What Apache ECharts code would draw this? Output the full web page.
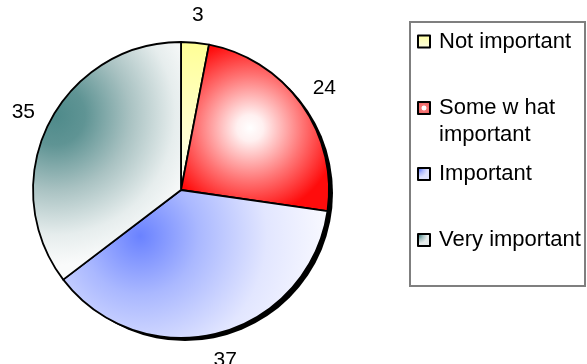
<!DOCTYPE html>
<html>
<head>
<meta charset="utf-8">
<script src="https://cdn.jsdelivr.net/npm/echarts@6/dist/echarts.min.js"></script>
<style>
  html, body { margin: 0; padding: 0; background: #fff; }
  #chart { width: 587px; height: 364px; }
</style>
</head>
<body>
<div id="chart"></div>
<script>
// Survey answers: how important it is
const categories = ['Not important', 'Some w hat important', 'Important', 'Very important'];
const counts = [3, 24, 37, 35];

const FONT = 'Arial, "Liberation Sans", sans-serif';
const CX = 181, CY = 190, R = 148;

// Slice fills (canvas-space gradients, each fading towards white)
const sliceFills = [
  { type: 'linear', x: 0, y: CY - R, x2: 0, y2: CY, global: true,
    colorStops: [{ offset: 0, color: '#ffff96' }, { offset: 1, color: '#fffff4' }] },
  { type: 'radial', x: 250, y: 128, r: 88, global: true,
    colorStops: [{ offset: 0, color: '#ffffff' }, { offset: 0.15, color: '#fff0f0' },
                 { offset: 0.6, color: '#ff7474' }, { offset: 1, color: '#ff0c0c' }] },
  { type: 'radial', x: 140, y: 236, r: 195, global: true,
    colorStops: [{ offset: 0, color: '#6a82ff' }, { offset: 0.3, color: '#aab8ff' },
                 { offset: 0.65, color: '#e2e6ff' }, { offset: 1, color: '#fbfbff' }] },
  { type: 'radial', x: 55, y: 115, r: 150, global: true,
    colorStops: [{ offset: 0, color: '#4e8a8a' }, { offset: 0.2, color: '#5f9494' },
                 { offset: 0.5, color: '#a9c2c2' }, { offset: 0.8, color: '#e6eded' },
                 { offset: 1, color: '#fafbfb' }] }
];

// Small swatch fills for the legend keys (box-relative gradients)
const keyFills = [
  { type: 'linear', x: 0, y: 0, x2: 0, y2: 1,
    colorStops: [{ offset: 0, color: '#ffffa0' }, { offset: 1, color: '#ffffe6' }] },
  { type: 'radial', x: 0.5, y: 0.5, r: 0.5,
    colorStops: [{ offset: 0, color: '#ffffff' }, { offset: 0.3, color: '#ffffff' },
                 { offset: 0.4, color: '#f47a7a' }, { offset: 1, color: '#f06060' }] },
  { type: 'radial', x: 0.15, y: 0.15, r: 0.6,
    colorStops: [{ offset: 0, color: '#6078ff' }, { offset: 0.5, color: '#b0bcff' },
                 { offset: 1, color: '#dfe3ff' }] },
  { type: 'radial', x: 0.15, y: 0.15, r: 0.6,
    colorStops: [{ offset: 0, color: '#3f8080' }, { offset: 0.5, color: '#a5c0c0' },
                 { offset: 1, color: '#e6ecec' }] }
];

const pieData = categories.map((name, i) => ({
  name, value: counts[i], itemStyle: { color: sliceFills[i] }
}));

// Legend entries sit at evenly spaced key rows
const keyCentres = [41.5, 108, 174, 240];
const legendLines = name => name === 'Some w hat important' ? '\nSome w hat\nimportant' : name;
const legends = categories.map((name, i) => {
  const lines = legendLines(name).split('\n').length;
  return {
    orient: 'vertical',
    left: 417,
    top: keyCentres[i] - (27 * lines) / 2,
    padding: 0,
    itemWidth: 12,
    itemHeight: 12,
    selectedMode: false,
    icon: 'rect',
    formatter: legendLines,
    textStyle: { fontFamily: FONT, fontSize: 22, color: '#000', lineHeight: 27, padding: [0, 0, 0, 4] },
    data: [{ name, itemStyle: { color: keyFills[i], borderColor: '#000', borderWidth: 2 } }]
  };
});

const chart = echarts.init(document.getElementById('chart'), null, { renderer: 'canvas' });
chart.setOption({
  animation: false,
  backgroundColor: '#fff',
  legend: legends,
  graphic: [{
    type: 'rect', silent: true, z: -1,
    shape: { x: 410, y: 22, width: 175, height: 264 },
    style: { fill: '#fff', stroke: '#7f7f7f', lineWidth: 2 }
  }],
  series: [
    { // drop shadow behind the pie
      type: 'pie', silent: true, z: 1,
      center: [CX + 4, CY + 3], radius: R,
      label: { show: false }, labelLine: { show: false },
      itemStyle: { color: '#000' },
      data: [{ name: 'shadow', value: 1 }]
    },
    {
      type: 'pie', z: 2,
      center: [CX, CY], radius: R,
      startAngle: 90, clockwise: true,
      label: { show: false }, labelLine: { show: false },
      itemStyle: { borderColor: '#000', borderWidth: 1.8 },
      emphasis: { disabled: true },
      data: pieData
    },
    { // value labels on a ring just outside the pie
      type: 'pie', silent: true, z: 3,
      center: [CX, CY], radius: [R + 15, R + 35],
      startAngle: 90, clockwise: true,
      itemStyle: { color: 'rgba(0,0,0,0)' },
      label: { show: true, position: 'inside', formatter: '{c}',
               fontFamily: FONT, fontSize: 21, color: '#000' },
      labelLine: { show: false },
      emphasis: { disabled: true },
      data: categories.map((name, i) => ({ name, value: counts[i] }))
    }
  ]
});
</script>
</body>
</html>
